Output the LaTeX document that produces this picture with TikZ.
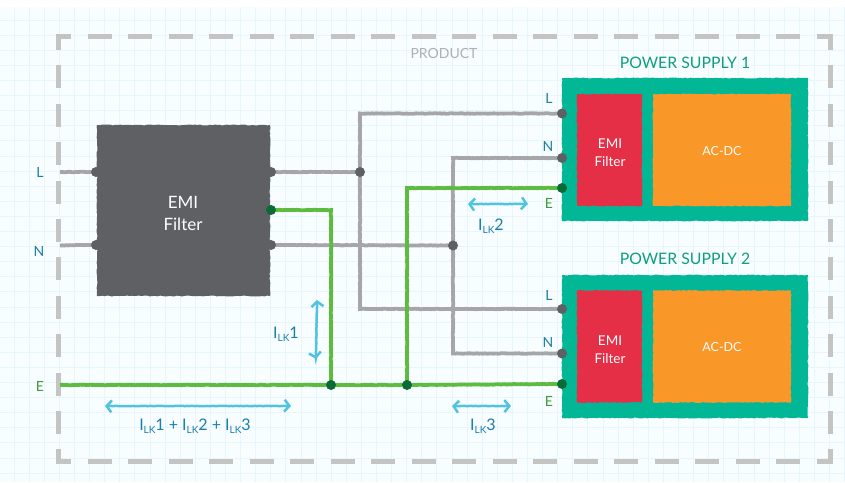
\documentclass[tikz,border=0pt]{standalone}
\usepackage{fontspec}
\setmainfont{Lato}
\usetikzlibrary{decorations.pathmorphing,arrows.meta}
\pgfdeclarelayer{gridlayer}
\pgfdeclarelayer{wirelayer}
\pgfsetlayers{gridlayer,wirelayer,main}
\definecolor{paper}{HTML}{F8FDFF}
\definecolor{gridc}{HTML}{E8F5FB}
\definecolor{framec}{HTML}{C4C4C2}
\definecolor{wiregray}{HTML}{A6A6A8}
\definecolor{wiregreen}{HTML}{5DBB3F}
\definecolor{dotgray}{HTML}{5F6064}
\definecolor{dotgreen}{HTML}{0B6B36}
\definecolor{teal}{HTML}{02B795}
\definecolor{redb}{HTML}{E42F47}
\definecolor{orangeb}{HTML}{F99729}
\definecolor{bluet}{HTML}{1B7FA8}
\definecolor{greent}{HTML}{3F9C3A}
\definecolor{tealt}{HTML}{0F9E80}
\definecolor{arrowc}{HTML}{4FC3E0}
\tikzset{
  x=1pt,y=-1pt,
  rough/.style={decorate,decoration={random steps,segment length=2.5pt,amplitude=0.5pt}},
  fine/.style={decorate,decoration={random steps,segment length=2pt,amplitude=0.25pt}},
  box/.style={rectangle,inner sep=0pt,fill=#1,rough},
  dotg/.style={circle,inner sep=0pt,minimum size=10pt,fill=dotgray},
  dotv/.style={circle,inner sep=0pt,minimum size=10pt,fill=dotgreen},
  gwire/.style={draw=wiregray,line width=3.8pt,fine},
  ewire/.style={draw=wiregreen,line width=3.8pt,fine},
  framel/.style={draw=framec,line width=5pt,dash pattern=on 24pt off 16.5pt},
  framev/.style={draw=framec,line width=5pt,dash pattern=on 23pt off 15.4pt},
  lk/.style={draw=arrowc,line width=2.5pt,fine,{Straight Barb[length=5pt,width=12pt,line width=2.5pt]}-{Straight Barb[length=5pt,width=12pt,line width=2.5pt]}},
  lbl/.style={inner sep=0pt,font=\fontsize{14}{16}\selectfont,text=bluet},
  elbl/.style={inner sep=0pt,font=\fontsize{14}{16}\selectfont,text=greent},
  ilbl/.style={inner sep=0pt,font=\fontsize{16}{18}\selectfont,text=bluet},
  wt/.style={inner sep=0pt,text=white,align=center},
}
\newcommand{\ilk}[1]{I\raisebox{-3.5pt}{\fontsize{10}{10}\selectfont LK}#1}
\begin{document}
\begin{tikzpicture}
\useasboundingbox (0,0) rectangle (845,482);
% nodes
\node[box=dotgray,minimum width=173pt,minimum height=171pt] (emi) at (183.5,210.5) {};
\node[box=teal,minimum width=246pt,minimum height=143pt] (ps1) at (685,149.5) {};
\node[box=redb,minimum width=65pt,minimum height=112pt] (r1) at (609.5,150) {};
\node[box=orangeb,minimum width=138pt,minimum height=112pt] (o1) at (722,150) {};
\node[box=teal,minimum width=246pt,minimum height=143pt] (ps2) at (685,346.5) {};
\node[box=redb,minimum width=65pt,minimum height=112pt] (r2) at (609.5,346.5) {};
\node[box=orangeb,minimum width=138pt,minimum height=112pt] (o2) at (722,346.5) {};

\node[wt,font=\fontsize{17}{22}\selectfont] (emit) at (183,213) {EMI\\Filter};
\node[wt,font=\fontsize{13.5}{18}\selectfont] (f1t) at (610,153) {EMI\\Filter};
\node[wt,font=\fontsize{13.5}{18}\selectfont] (f2t) at (610,350) {EMI\\Filter};
\node[wt,font=\fontsize{12.5}{14}\selectfont] (a1t) at (722,151) {AC-DC};
\node[wt,font=\fontsize{12.5}{14}\selectfont] (a2t) at (722,347) {AC-DC};

\node[inner sep=0pt,text=framec!90!black,font=\fontsize{14}{16}\selectfont] (prod) at (444,53) {PRODUCT};
\node[inner sep=0pt,text=tealt,font=\fontsize{15.8}{18}\selectfont] (pst1) at (685,63) {POWER SUPPLY 1};
\node[inner sep=0pt,text=tealt,font=\fontsize{15.8}{18}\selectfont] (pst2) at (685,259) {POWER SUPPLY 2};

\node[lbl] (lL) at (40,172) {L};
\node[lbl] (lN) at (39,251) {N};
\node[elbl] (lE) at (40,386) {E};
\node[lbl] (a1L) at (549,98) {L};
\node[lbl] (a1N) at (548,146) {N};
\node[elbl] (a1E) at (549,203) {E};
\node[lbl] (a2L) at (549,295) {L};
\node[lbl] (a2N) at (548,342) {N};
\node[elbl] (a2E) at (549,401) {E};

\node[ilbl] (i1) at (286,334) {\ilk{1}};
\node[ilbl] (i2) at (491,226) {\ilk{2}};
\node[ilbl] (i3) at (483,426) {\ilk{3}};
\node[ilbl] (isum) at (195,426) {\ilk{1} + \ilk{2} + \ilk{3}};

% dots
\node[dotg] (dLi) at (96,172) {};
\node[dotg] (dNi) at (96,245) {};
\node[dotg] (dLo) at (271,172) {};
\node[dotg] (dNo) at (271,245) {};
\node[dotv] (dEo) at (271,210) {};
\node[dotg] (jL) at (360,172) {};
\node[dotg] (jN) at (453,245.5) {};
\node[dotv] (jE1) at (331,385) {};
\node[dotv] (jE2) at (407,385) {};
\node[dotg] (p1L) at (562,113.5) {};
\node[dotg] (p1N) at (562,158) {};
\node[dotv] (p1E) at (562,188) {};
\node[dotg] (p2L) at (562,309) {};
\node[dotg] (p2N) at (562,353.5) {};
\node[dotv] (p2E) at (562,384) {};
\coordinate (inL) at (60,172);
\coordinate (inN) at (60,245.5);
\coordinate (inE) at (60,385);

% arrows
\coordinate (a1a) at (105,406); \coordinate (a1b) at (291,406);
\coordinate (a2a) at (468,204); \coordinate (a2b) at (528,204);
\coordinate (a3a) at (452,406); \coordinate (a3b) at (511,406);
\coordinate (a4a) at (317,300); \coordinate (a4b) at (316,359);
\draw[lk] (a1a) -- (a1b);
\draw[lk] (a2a) -- (a2b);
\draw[lk] (a3a) -- (a3b);
\draw[lk] (a4a) -- (a4b);

\begin{pgfonlayer}{wirelayer}
\draw[gwire] (inL) -- (dLi.center);
\draw[gwire] (inN) -- (dNi.center);
\draw[gwire] (dLo.center) -- (jL.center);
\draw[gwire] (dNo.center) -- (jN.center);
\draw[gwire] (jL.center) |- (p1L.center);
\draw[gwire] (jL.center) |- (p2L.center);
\draw[gwire] (jN.center) |- (p1N.center);
\draw[gwire] (jN.center) |- (p2N.center);
\draw[ewire] (dEo.center) -| (jE1.center);
\draw[ewire] (inE) -- (jE1.center) -- (jE2.center) -- (p2E.center);
\draw[ewire] (jE2.center) |- (p1E.center);
\end{pgfonlayer}

\begin{pgfonlayer}{gridlayer}
\fill[paper] (0,7) rectangle (845,482);
\foreach \i in {0,...,55} \draw[gridc,line width=0.8pt] ({14+15.1*\i},7) -- ({14+15.1*\i},482);
\foreach \i in {0,...,31} \draw[gridc,line width=0.8pt] (0,{20+15.1*\i}) -- (845,{20+15.1*\i});
\draw[framel,dash phase=9pt] (56,36.5) -- (833,36.5);
\draw[framel,dash phase=9pt] (56,461) -- (833,461);
\draw[framev,dash phase=7pt] (58.5,34) -- (58.5,463);
\draw[framev,dash phase=7pt] (830.5,34) -- (830.5,463);
\end{pgfonlayer}
\end{tikzpicture}
\end{document}
